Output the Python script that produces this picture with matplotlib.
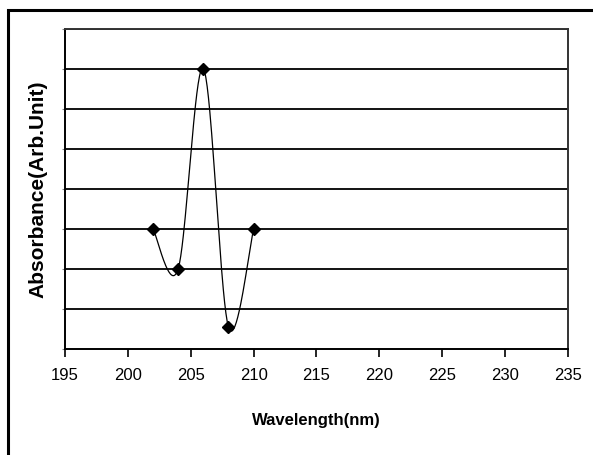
import numpy as np
import matplotlib
matplotlib.use("Agg")
import matplotlib.pyplot as plt
from matplotlib.patches import Rectangle

# absorbance readings (arbitrary units) against wavelength
wavelength = [202, 204, 206, 208, 210]
absorbance = [3.0, 2.0, 7.0, 0.55, 3.0]
xticks = [195, 200, 205, 210, 215, 220, 225, 230, 235]

font = ["Liberation Sans", "DejaVu Sans"]

fig = plt.figure(figsize=(5.93, 4.56), dpi=100)
ax = fig.add_axes([0.1096, 0.2325, 0.8482, 0.7028])
ax.set_xlim(195, 235)
ax.set_ylim(0, 8)

# smoothed line like a spreadsheet "smooth line" (Catmull-Rom in screen space)
pts = ax.transData.transform(np.column_stack([wavelength, absorbance]))
padded = np.vstack([pts[0], pts, pts[-1]])
curve = []
t = np.linspace(0, 1, 40)[:, None]
for i in range(1, len(padded) - 2):
    p0, p1, p2, p3 = padded[i - 1], padded[i], padded[i + 1], padded[i + 2]
    c1 = p1 + (p2 - p0) / 6
    c2 = p2 - (p3 - p1) / 6
    seg = ((1 - t) ** 3) * p1 + 3 * ((1 - t) ** 2) * t * c1 + 3 * (1 - t) * t ** 2 * c2 + t ** 3 * p2
    curve.append(seg)
curve = ax.transData.inverted().transform(np.vstack(curve))

for y in range(1, 9):
    ax.axhline(y, color="black", lw=1.3, zorder=1)

ax.plot(curve[:, 0], curve[:, 1], color="black", lw=0.9, zorder=2)
ax.plot(wavelength, absorbance, linestyle="none", marker="D", markersize=6.5,
        color="black", zorder=3)

ax.set_xticks(xticks)
ax.set_xticklabels([str(v) for v in xticks], fontfamily=font, fontsize=12)
ax.set_yticks(range(0, 9))
ax.set_yticklabels([])
ax.tick_params(axis="x", direction="out", length=6, width=1.2, pad=7)
ax.tick_params(axis="y", direction="out", length=2, width=0.8, color="gray")

for side in ["left", "bottom"]:
    ax.spines[side].set_linewidth(1.4)
for side in ["right", "top"]:
    ax.spines[side].set_linewidth(1.4)
    ax.spines[side].set_color("#333333")

ax.set_xlabel("Wavelength(nm)", fontfamily=font, fontweight="bold",
              fontsize=12, va="center")
ax.xaxis.set_label_coords(0.5, -0.2215)
ax.set_ylabel("Absorbance(Arb.Unit)", fontfamily=font, fontweight="bold",
              fontsize=15, va="center")
ax.yaxis.set_label_coords(-0.0537, 0.5)

# chart area border, clipped at right and bottom
fig.patches.append(Rectangle((8 / 593, -0.1), 1.2, (456 - 11) / 456 + 0.1,
                             transform=fig.transFigure, fill=False,
                             edgecolor="black", lw=2.2))

fig.savefig("out.png", dpi=100)
